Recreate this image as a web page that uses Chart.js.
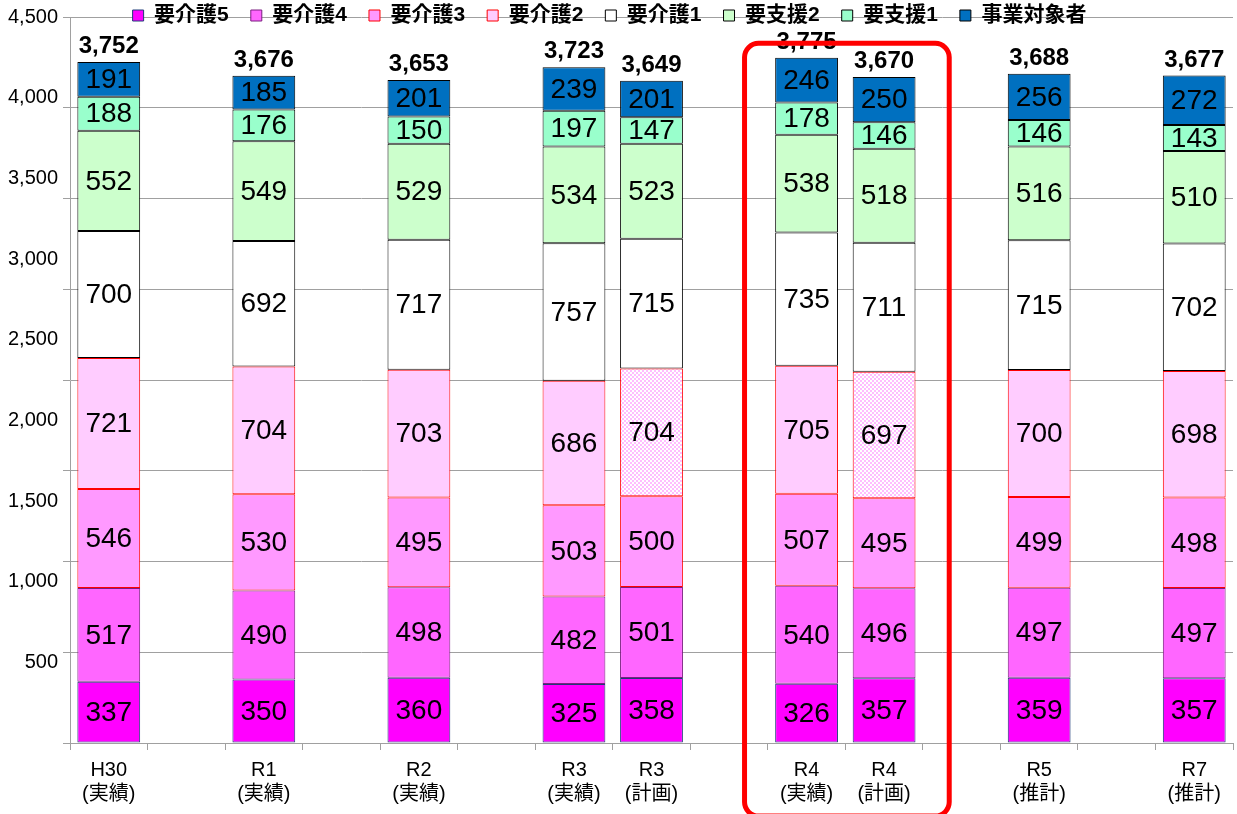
<!DOCTYPE html>
<html>
<head>
<meta charset="UTF-8">
<title>要介護認定者数の推移</title>
<style>
  html, body { margin: 0; padding: 0; background: #fff; }
  #chart { display: block; }
</style>
</head>
<body>
<canvas id="chart" width="1237" height="814"></canvas>

<script src="https://cdn.jsdelivr.net/npm/chart.js"></script>
<script>
// 年度（空文字はすき間の列）
const periods = [['H30', '(実績)'], '', ['R1', '(実績)'], '', ['R2', '(実績)'], '', ['R3', '(実績)'], ['R3', '(計画)'], '',
  ['R4', '(実績)'], ['R4', '(計画)'], '', ['R5', '(推計)'], '', ['R7', '(推計)']];

// 区分ごとの人数（下から順に積み上げ）
const kaigo5 = [337, null, 350, null, 360, null, 325, 358, null, 326, 357, null, 359, null, 357];
const kaigo4 = [517, null, 490, null, 498, null, 482, 501, null, 540, 496, null, 497, null, 497];
const kaigo3 = [546, null, 530, null, 495, null, 503, 500, null, 507, 495, null, 499, null, 498];
const kaigo2 = [721, null, 704, null, 703, null, 686, 704, null, 705, 697, null, 700, null, 698];
const kaigo1 = [700, null, 692, null, 717, null, 757, 715, null, 735, 711, null, 715, null, 702];
const shien2 = [552, null, 549, null, 529, null, 534, 523, null, 538, 518, null, 516, null, 510];
const shien1 = [188, null, 176, null, 150, null, 197, 147, null, 178, 146, null, 146, null, 143];
const jigyo  = [191, null, 185, null, 201, null, 239, 201, null, 246, 250, null, 256, null, 272];

// 左軸の目盛ラベル
const yAxisLabels = [500, 1000, 1500, 2000, 2500, 3000, 3500, 4000, 4500];

const FONT = '"Liberation Sans", "Noto Sans CJK JP", sans-serif';
Chart.defaults.font.family = FONT;
Chart.defaults.color = '#000';

const canvas = document.getElementById('chart');
const ctx = canvas.getContext('2d');

// 計画の列は網掛け
const isPlan = periods.map(p => Array.isArray(p) && p[1] === '(計画)');
function checker(c1, c2) {
  const cv = document.createElement('canvas');
  cv.width = 4; cv.height = 4;
  const g = cv.getContext('2d');
  g.fillStyle = c2; g.fillRect(0, 0, 4, 4);
  g.fillStyle = c1; g.fillRect(0, 0, 2, 2); g.fillRect(2, 2, 2, 2);
  return ctx.createPattern(cv, 'repeat');
}
const planFill = checker('#ffbdff', '#ffffff');

const totals = periods.map((p, i) => {
  if (kaigo5[i] == null) return null;
  return kaigo5[i] + kaigo4[i] + kaigo3[i] + kaigo2[i] + kaigo1[i] + shien2[i] + shien1[i] + jigyo[i];
});

function series(label, data, bg, border) {
  return { label, data, backgroundColor: bg, borderColor: border, borderWidth: 1, borderSkipped: false,
    barPercentage: 0.81, categoryPercentage: 1 };
}

// 凡例をグラフ領域の上端に重ねる
const legendOverlay = {
  id: 'legendOverlay',
  afterInit(chart) {
    const lg = chart.legend;
    const fit = lg.fit;
    lg.fit = function () { fit.call(this); this.height = 0; };
  },
  afterLayout(chart) {
    const lg = chart.legend;
    lg.top = -17;
    lg.height = 60;
    lg.bottom = lg.top + lg.height;
    lg.left -= 7;
    lg.right -= 7;
  }
};

// 各区分の数値と合計
const valueLabels = {
  id: 'valueLabels',
  afterDatasetsDraw(chart) {
    const c = chart.ctx;
    c.save();
    c.fillStyle = '#000';
    c.textAlign = 'center';
    c.textBaseline = 'middle';
    c.font = '28px ' + FONT;
    chart.data.datasets.forEach((ds, i) => {
      chart.getDatasetMeta(i).data.forEach((bar, j) => {
        if (ds.data[j] == null) return;
        c.fillText(String(ds.data[j]), bar.x, (bar.y + bar.base) / 2 + 1);
      });
    });
    c.font = 'bold 24px ' + FONT;
    c.textBaseline = 'alphabetic';
    const topBars = chart.getDatasetMeta(chart.data.datasets.length - 1).data;
    totals.forEach((t, j) => {
      if (t == null) return;
      c.fillText(t.toLocaleString('en-US'), topBars[j].x, topBars[j].y - 9);
    });
    c.restore();
  }
};

// R4 を囲む赤枠
const highlight = {
  id: 'highlight',
  afterDraw(chart) {
    const { ctx: c, scales: { x, y } } = chart;
    const left = x.getPixelForValue(8.2);
    const right = x.getPixelForValue(10.84);
    const top = y.getPixelForValue(3855);
    const bottom = chart.height + 2;
    c.save();
    c.strokeStyle = '#ff0000';
    c.lineWidth = 5;
    c.beginPath();
    c.roundRect(left, top, right - left, bottom - top, 14);
    c.stroke();
    c.restore();
  }
};

new Chart(ctx, {
  type: 'bar',
  data: {
    labels: periods,
    datasets: [
      series('要介護5', kaigo5, '#ff00ff', '#1f3c78'),
      series('要介護4', kaigo4, '#ff66ff', '#7a1f80'),
      series('要介護3', kaigo3, '#ff99ff', '#ff0000'),
      series('要介護2', kaigo2, c => (c.type === 'data' && isPlan[c.dataIndex]) ? planFill : '#ffccff', '#ff0000'),
      series('要介護1', kaigo1, '#ffffff', '#000000'),
      series('要支援2', shien2, '#ccffcc', '#000000'),
      series('要支援1', shien1, '#99ffcc', '#000000'),
      series('事業対象者', jigyo, '#0070c0', '#000000')
    ]
  },
  options: {
    responsive: false,
    animation: false,
    devicePixelRatio: 1,
    layout: { padding: { top: 13, right: 4, bottom: 0, left: 0 } },
    plugins: {
      legend: {
        position: 'top',
        labels: { boxWidth: 11, boxHeight: 11, padding: 22, color: '#000', font: { size: 21, weight: 'bold' } }
      },
      tooltip: { enabled: false }
    },
    scales: {
      x: {
        stacked: true,
        grid: { drawOnChartArea: false, tickLength: 7, color: '#a0a0a0' },
        border: { color: '#a0a0a0' },
        ticks: { autoSkip: false, maxRotation: 0, padding: 8, color: '#000', font: { size: 20, lineHeight: 1.2 } }
      },
      y: {
        stacked: true,
        min: 0,
        max: 4000,
        weight: 0,
        ticks: { stepSize: 500, display: false },
        grid: { color: '#a0a0a0', tickLength: 7 },
        border: { color: '#a0a0a0' }
      },
      yLabels: {
        position: 'left',
        weight: 1,
        min: 0,
        max: 4500,
        grid: { drawOnChartArea: false, drawTicks: false, tickLength: 0 },
        border: { display: false },
        afterBuildTicks: s => { s.ticks = yAxisLabels.map(v => ({ value: v })); },
        afterFit: s => { s.width = 63; },
        ticks: { padding: 5, color: '#000', font: { size: 20 }, callback: v => v.toLocaleString('en-US') }
      }
    }
  },
  plugins: [legendOverlay, valueLabels, highlight]
});
</script>
</body>
</html>
